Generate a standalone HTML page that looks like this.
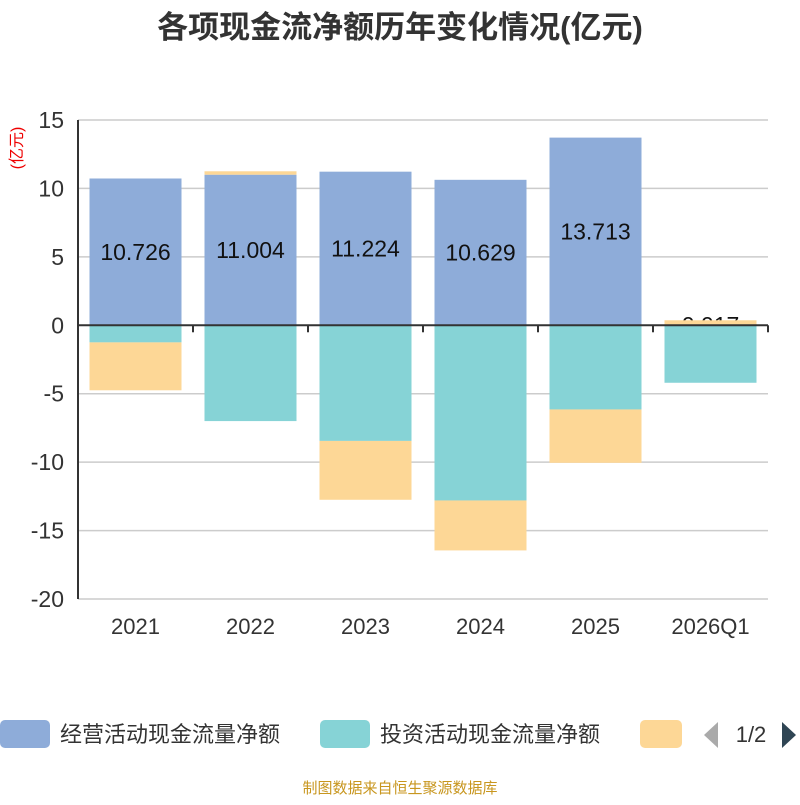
<!DOCTYPE html>
<html><head><meta charset="utf-8"><style>
body{margin:0;background:#fff;width:800px;height:800px;overflow:hidden;font-family:"Liberation Sans","Noto Sans CJK SC",sans-serif}
</style></head><body>
<svg id="c" width="800" height="800" xmlns="http://www.w3.org/2000/svg" font-family="Liberation Sans, Noto Sans CJK SC, sans-serif">
<text x="400" y="38" text-anchor="middle" font-size="31" font-weight="bold" fill="#333">各项现金流净额历年变化情况(亿元)</text>
<text transform="translate(22,148) rotate(-90)" text-anchor="middle" font-size="16" fill="#e00">(亿元)</text>
<g id="grid"></g><g id="bars"></g><g id="labels"></g><g id="bars2"></g><g id="axis"></g>
<g>
<rect x="0" y="720" width="50" height="28" rx="5" fill="#8eacd9"/>
<text x="60" y="742" font-size="22" fill="#333">经营活动现金流量净额</text>
<rect x="320" y="720" width="50" height="28" rx="5" fill="#86d3d6"/>
<text x="380" y="742" font-size="22" fill="#333">投资活动现金流量净额</text>
<rect x="640" y="720" width="42" height="28" rx="5" fill="#fdd796"/>
<polygon points="718,722 718,748 704,735" fill="#aaa"/>
<text x="751" y="742" text-anchor="middle" font-size="22" fill="#333">1/2</text>
<polygon points="782,722 782,748 796,735" fill="#2f4554"/>
</g>
<text x="400" y="793" text-anchor="middle" font-size="15" fill="#c8961e">制图数据来自恒生聚源数据库</text>
</svg>
<script>
const categories=["2021","2022","2023","2024","2025","2026Q1"];
const operating=[10.726,11.004,11.224,10.629,13.713,0.017];
const investing=[-1.25,-7.0,-8.45,-12.8,-6.15,-4.2];
const financing=[-3.5,0.25,-4.3,-3.65,-3.9,0.35];
const yTicks=[15,10,5,0,-5,-10,-15,-20];
const NS="http://www.w3.org/2000/svg";
const x0=78,x1=768,yTop=120,yBot=599,yMax=15,yMin=-20;
const bw=(x1-x0)/categories.length;
const Y=v=>yTop+(yMax-v)*(yBot-yTop)/(yMax-yMin);
function mk(tag,attrs,parent){const e=document.createElementNS(NS,tag);for(const k in attrs)e.setAttribute(k,attrs[k]);document.getElementById(parent).appendChild(e);return e;}
yTicks.forEach(t=>{
 const l=mk('line',{x1:x0,x2:x1,y1:Y(t),y2:Y(t),stroke:'#ccc','stroke-width':1.5},'grid');
 
 
 const tx=mk('text',{x:64,y:Y(t)+8,'text-anchor':'end','font-size':23,fill:'#333'},'axis');
 tx.textContent=t;
 
 
});
const zl=mk('line',{x1:x0,x2:x1,y1:Y(0),y2:Y(0),stroke:'#333','stroke-width':2},'axis');


const ax=mk('line',{x1:x0,x2:x0,y1:yTop,y2:yBot,stroke:'#333','stroke-width':2},'axis');


for(let i=0;i<=categories.length;i++){
 const tk=mk('line',{x1:x0+i*bw,x2:x0+i*bw,y1:Y(0),y2:Y(0)+7,stroke:'#333','stroke-width':2},'axis');
 
 
}
function bar(cx,a,b,fill,name,g){
 const r=mk('rect',{x:cx-46,width:92,y:Math.min(Y(a),Y(b)),height:Math.abs(Y(a)-Y(b)),fill:fill},g);
 
 
}
categories.forEach((c,i)=>{
 const cx=x0+bw*(i+0.5);
 let pos=0,neg=0;
 [[operating[i],'#8eacd9','bar-operating','bars'],[investing[i],'#86d3d6','bar-investing','bars2'],[financing[i],'#fdd796','bar-financing','bars2']].forEach(([v,f,n,g])=>{
  if(v>=0){bar(cx,pos,pos+v,f,n+'-'+c,g);pos+=v;}else{bar(cx,neg,neg+v,f,n+'-'+c,g);neg+=v;}
 });
 const lb=mk('text',{x:cx,y:Y(operating[i]/2)+8,'text-anchor':'middle','font-size':23,fill:'#111'},'labels');
 lb.textContent=operating[i].toFixed(3);
 
 
 const xl=mk('text',{x:cx,y:634,'text-anchor':'middle','font-size':22,fill:'#333'},'axis');
 xl.textContent=c;
 
 
});
</script>
</body></html>
